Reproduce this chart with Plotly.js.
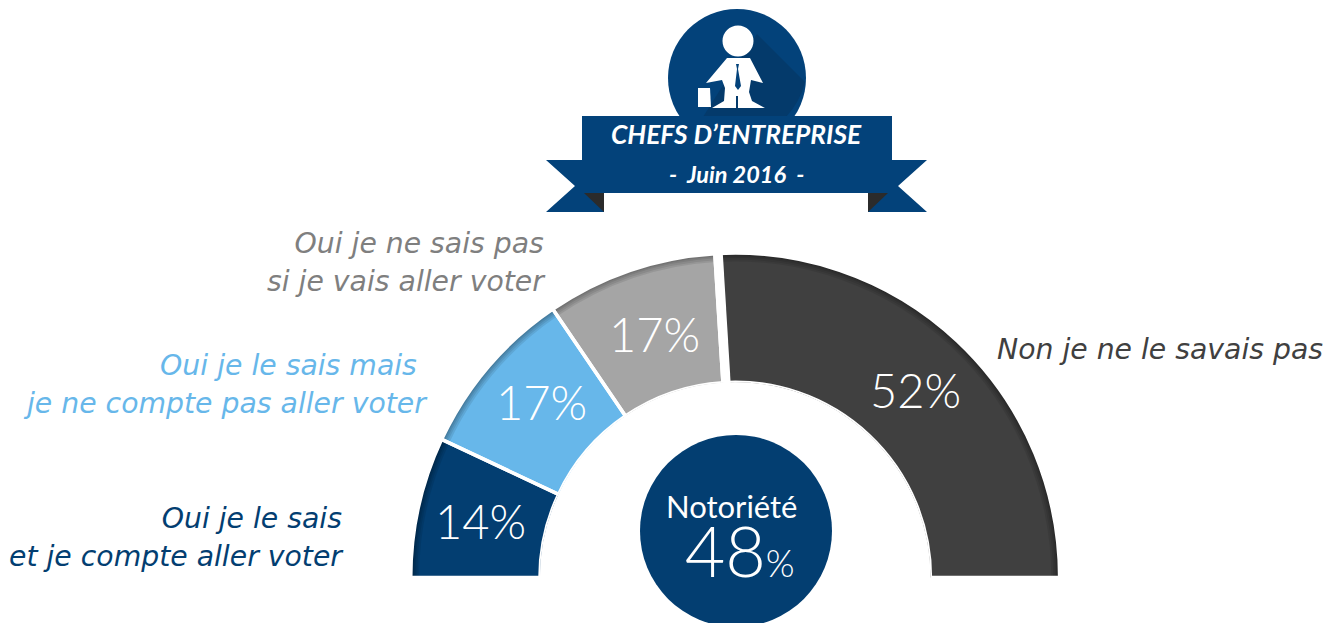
<!DOCTYPE html>
<html><head><meta charset="utf-8">
<script src="https://cdn.plot.ly/plotly-3.0.1.min.js"></script>
<style>html,body{margin:0;padding:0;background:#fff;overflow:hidden}#c{width:1330px;height:623px}</style>
</head><body><div id="c"></div>
<script>
const categories=["Non je ne le savais pas","Oui je ne sais pas si je vais aller voter","Oui je le sais mais je ne compte pas aller voter","Oui je le sais et je compte aller voter"];
const shares=[52,17,17,14];
const sliceColors=["#404040","#a5a5a5","#67b7ea","#033e71"];
const edgeDepths=[0.012,0.024,0.036,0.05,0.065];
const W=1330,H=623,NAVY="#03427a",WHITE="#ffffff";
const fx=x=>x/W, fy=y=>1-y/H;
function path(str){return str.replace(/(-?[\d.]+) (-?[\d.]+)/g,(m,a,b)=>fx(+a)+" "+fy(+b));}
function poly(d,fill,extra){return Object.assign({type:"path",xref:"paper",yref:"paper",path:path(d),fillcolor:fill,line:{width:0},layer:"below"},extra||{});}
function circle(cx,cy,r,fill){return {type:"circle",xref:"paper",yref:"paper",x0:fx(cx-r),x1:fx(cx+r),y0:fy(cy+r),y1:fy(cy-r),fillcolor:fill,line:{width:0},layer:"below"};}
function label(x,y,text,size,color,opt){return {xref:"paper",yref:"paper",x:fx(x),y:fy(y),text:text,showarrow:false,xanchor:"center",yanchor:"middle",align:"center",font:Object.assign({size:size,color:color,family:"Lato"},opt||{})};}
let acc=0;const mids=[],widths=[];
shares.forEach(v=>{const w=v/100*180;mids.push(acc+w/2);widths.push(w);acc+=w;});
const one=shares.map(()=>1);
const traces=[{type:"barpolar",r:one,base:shares.map(()=>0),theta:mids,width:widths,marker:{color:sliceColors,line:{width:0}},hoverinfo:"skip",text:categories}];
edgeDepths.forEach(d=>traces.push({type:"barpolar",r:shares.map(()=>d),base:shares.map(()=>1-d),theta:mids,width:widths,marker:{color:"rgba(0,0,0,0.085)",line:{width:0}},hoverinfo:"skip"}));
traces.push({type:"barpolar",r:one,base:shares.map(()=>0),theta:mids,width:widths,marker:{color:"rgba(0,0,0,0)",line:{color:"#ffffff",width:3.5}},hoverinfo:"skip"});
const shapes=[
 circle(737,78,69,NAVY),
 poly("M 757 34 L 805 82 Q 800 102 786 117 L 703 117 L 720 90 Z","#043a6b"),
 circle(738,41,15.5,WHITE),
 poly("M 727 58 L 750 58 L 763 83 L 751 80 L 749 92 L 752 101 L 765 108 L 738 108 L 738 96 L 736 96 L 736 108 L 712 108 L 724 101 L 725 88 L 722 80 L 706 83 Z",WHITE),
 poly("M 736 64 L 739 64 L 738 69 L 741 86 L 738 90 L 735 86 L 737 69 Z",NAVY),
 poly("M 698 88 L 710 88 L 711 107 L 698 107 Z",WHITE),
 poly("M 546 160 L 582 160 L 582 193 L 604 193 L 604 212 L 546 212 L 575 186 Z",NAVY),
 poly("M 927 160 L 892 160 L 892 193 L 868 193 L 868 212 L 927 212 L 898 186 Z",NAVY),
 poly("M 584 193 L 604 193 L 604 212 Z","#2b2b2b"),
 poly("M 888 193 L 868 193 L 868 212 Z","#2b2b2b"),
 poly("M 582 116 L 892 116 L 892 193 L 582 193 Z",NAVY),
 circle(736,531,96,"#033e71"),
 {type:"line",xref:"paper",yref:"paper",x0:fx(718.7),y0:fy(248),x1:fx(727.2),y1:fy(388),line:{color:"#ffffff",width:7.5},layer:"above"}
];
const lab={family:"DejaVu Sans",style:"italic"};
const LS=28.3;
const span=a=>`<span style="font-size:${LS}px">${a}</span>`;
const twoLine=(a,b)=>span(a)+"<br>"+span(b);
function side(x,y,text,size,color){const a=label(x,y,text,size,color,lab);a.xanchor="right";a.align="right";return a;}
const R=326,CX=735.2,CY=577.5;
const annotations=[
 label(736,134,"CHEFS D’ENTREPRISE",26.3,WHITE,{style:"italic",weight:700}),
 label(736,174,"-  Juin 2016  -",23.5,WHITE,{style:"italic",weight:700}),
 label(915,390,shares[0]+"%",47,WHITE,{weight:300}),
 label(654,334,shares[1]+"%",47,WHITE,{weight:300}),
 label(541,402,shares[2]+"%",47,WHITE,{weight:300}),
 label(481,521,shares[3]+"%",47,WHITE,{weight:300}),
 label(739.5,539,`<span style="font-size:31px;font-weight:400">Notoriété&#160;&#160;</span><br><span style="font-size:70px">48</span><span style="font-size:37px">%</span>`,45,WHITE,{weight:300}),
 side(1325,349,span(categories[0]),LS,"#404040"),
 side(548,262,twoLine("Oui je ne sais pas","si je vais aller voter"),29,"#7f7f7f"),
 side(430,384,twoLine("Oui je le sais mais ","je ne compte pas aller voter"),29,"#67b7ea"),
 side(346,537,twoLine("Oui je le sais","et je compte aller voter"),29,"#033e71")
];
const layout={width:W,height:H,margin:{l:0,r:0,t:0,b:0},paper_bgcolor:"#fff",showlegend:false,
 polar:{domain:{x:[fx(CX-R),fx(CX+R)],y:[fy(CY+R*0.01745),fy(CY-R)]},sector:[-1,181],hole:0.5988,bgcolor:"rgba(0,0,0,0)",
  radialaxis:{visible:false,range:[0,1.012],showline:false,showgrid:false},angularaxis:{visible:false,showline:false,showgrid:false,thetaunit:"degrees",direction:"counterclockwise",rotation:0}},
 shapes:shapes,annotations:annotations};
Plotly.newPlot("c",traces,layout,{staticPlot:true,displayModeBar:false});
</script></body></html>
